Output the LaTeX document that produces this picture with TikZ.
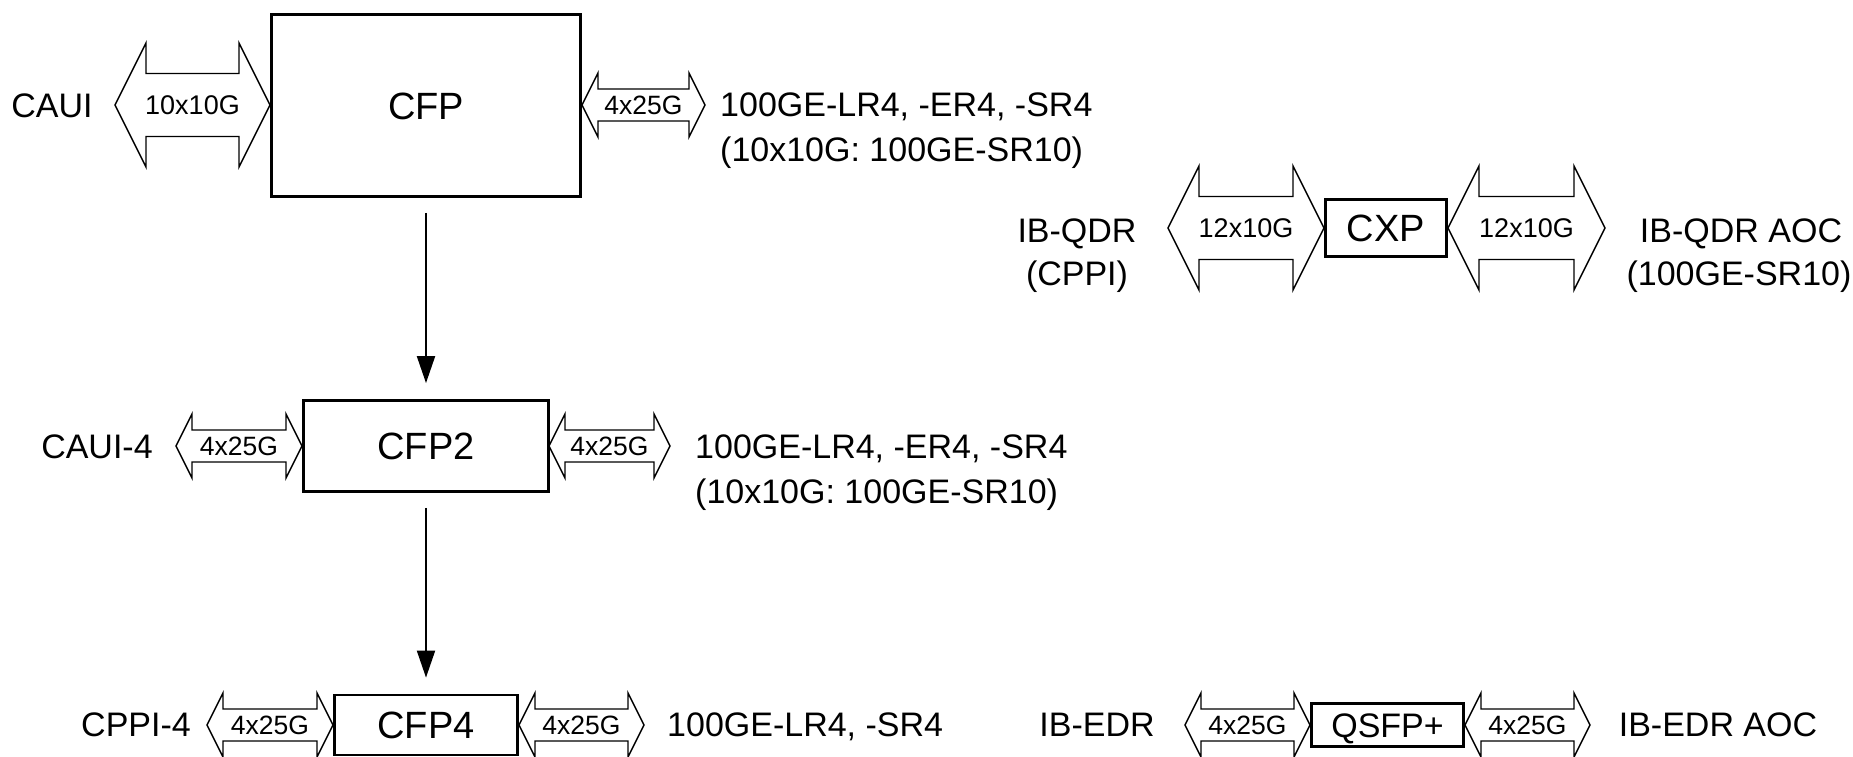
\documentclass[tikz,border=0pt]{standalone}
\usepackage{fontspec}
\setmainfont{Liberation Sans}
\usetikzlibrary{arrows.meta}
\tikzset{
  capc/.style={inner sep=0pt, text height=#1, text depth=0pt},
  txt/.style={capc=24.3pt, font=\fontsize{34}{40}\selectfont},
  modbox/.style={draw, line width=2.8pt, fill=white},
  bigfont/.style={capc=27.2pt, font=\fontsize{38}{44}\selectfont},
  midfont/.style={capc=24.3pt, font=\fontsize{34}{40}\selectfont},
  barrow/.style={draw, line width=1.4pt, line join=miter, fill=white},
  albig/.style={capc=19.3pt, font=\fontsize{27}{30}\selectfont},
  alsmall/.style={capc=19pt, font=\fontsize{26.5}{29}\selectfont},
  flow/.style={line width=2pt, -{Triangle[length=27pt,width=18pt]}, shorten <=15pt, shorten >=16pt}
}
% #1 name, #2 left tip x, #3 right tip x, #4 centre y, #5 head length,
% #6 shaft half height, #7 head half height, #8 label style, #9 label
\newcommand{\blockarrow}[9]{%
  \draw[barrow] (#2,#4) -- ({#2+#5},{#4-#7}) -- ({#2+#5},{#4-#6}) -- ({#3-#5},{#4-#6})
     -- ({#3-#5},{#4-#7}) -- (#3,#4) -- ({#3-#5},{#4+#7}) -- ({#3-#5},{#4+#6})
     -- ({#2+#5},{#4+#6}) -- ({#2+#5},{#4+#7}) -- cycle;
  \node[#8] (#1) at ({(#2+#3)/2},#4) {#9};
}
\newcommand{\bigarrow}[5]{\blockarrow{#1}{#2}{#3}{#4}{31}{31.5}{62}{albig}{#5}}
\newcommand{\smallarrow}[5]{\blockarrow{#1}{#2}{#3}{#4}{16}{16}{32}{alsmall}{#5}}

\begin{document}
\begin{tikzpicture}[x=1pt,y=-1pt]
\useasboundingbox (0,0) rectangle (1853,757);

% ---------------- CFP row ----------------
\node[txt] (caui) at (52,105) {CAUI};
\bigarrow{a1}{115}{270}{105}{10x10G}
\node[modbox, bigfont, minimum width=309pt, minimum height=182pt] (cfp) at (426,105.5) {CFP};
\smallarrow{a2}{582}{705}{105}{4x25G}
\node[txt, anchor=west] (cfpo1) at (720,104) {100GE-LR4, -ER4, -SR4};
\node[txt, anchor=west] (cfpo2) at (720,149) {(10x10G: 100GE-SR10)};

% ---------------- CXP row ----------------
\node[txt] (ibq1) at (1077,230) {IB-QDR};
\node[txt] (ibq2) at (1077,273) {(CPPI)};
\bigarrow{a3}{1168}{1324}{228}{12x10G}
\node[modbox, bigfont, minimum width=121pt, minimum height=57pt] (cxp) at (1386,228) {CXP};
\bigarrow{a4}{1448}{1605}{228}{12x10G}
\node[txt] (ibqa1) at (1741,230) {IB-QDR AOC};
\node[txt] (ibqa2) at (1739,273) {(100GE-SR10)};

% ---------------- CFP2 row ----------------
\node[txt] (caui4) at (97,446) {CAUI-4};
\smallarrow{a5}{176}{302}{446}{4x25G}
\node[modbox, bigfont, minimum width=245pt, minimum height=91pt] (cfp2) at (426,446) {CFP2};
\smallarrow{a6}{549}{670}{446}{4x25G}
\node[txt, anchor=west] (cfp2o1) at (695,446) {100GE-LR4, -ER4, -SR4};
\node[txt, anchor=west] (cfp2o2) at (695,491) {(10x10G: 100GE-SR10)};

% ---------------- CFP4 row ----------------
\node[txt] (cppi4) at (136,724) {CPPI-4};
\smallarrow{a7}{207}{333}{725}{4x25G}
\node[modbox, bigfont, minimum width=183pt, minimum height=60pt] (cfp4) at (426,725) {CFP4};
\smallarrow{a8}{519}{644}{725}{4x25G}
\node[txt, anchor=west] (cfp4o) at (667,724) {100GE-LR4, -SR4};

% ---------------- QSFP+ row ----------------
\node[txt] (ibe) at (1097,724) {IB-EDR};
\smallarrow{a9}{1185}{1310}{725}{4x25G}
\node[modbox, midfont, minimum width=152pt, minimum height=43pt] (qsfp) at (1387.5,725) {QSFP+};
\smallarrow{a10}{1465}{1590}{725}{4x25G}
\node[txt] (ibea) at (1718,724) {IB-EDR AOC};

% ---------------- evolution arrows ----------------
\draw[flow] (cfp.south) -- (cfp.south |- cfp2.north);
\draw[flow] (cfp2.south) -- (cfp2.south |- cfp4.north);
\end{tikzpicture}
\end{document}
